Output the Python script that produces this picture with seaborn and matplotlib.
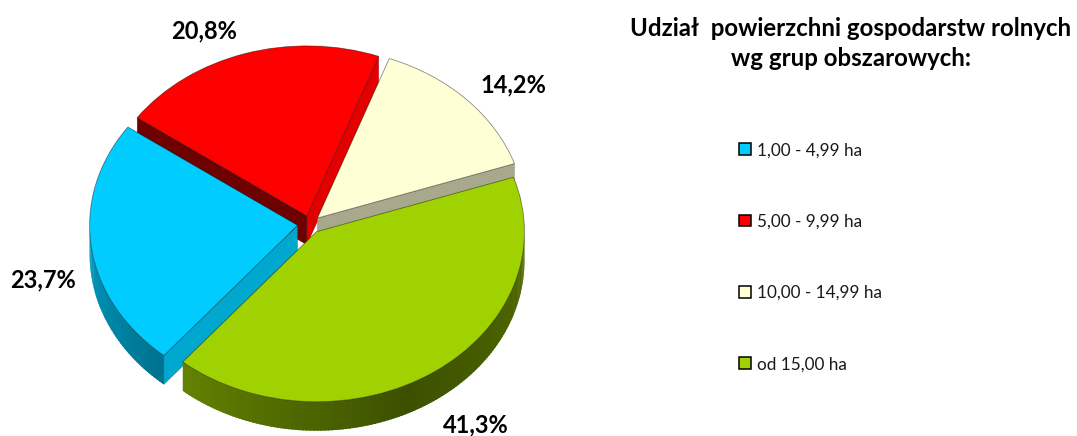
import numpy as np
import matplotlib
matplotlib.use("Agg")
import matplotlib.pyplot as plt
import seaborn as sns
from matplotlib.collections import PolyCollection
from matplotlib.patches import Patch

categories = ["1,00 - 4,99 ha", "5,00 - 9,99 ha", "10,00 - 14,99 ha", "od 15,00 ha"]
shares = [23.7, 20.8, 14.2, 41.3]
title_lines = ["Udział  powierzchni gospodarstw rolnych", "wg grup obszarowych:"]

sns.set_theme(style="white")
plt.rcParams["font.family"] = ["Lato", "DejaVu Sans"]

W, H = 1077, 436
top_colors = sns.color_palette(["#00CCFF", "#FF0000", "#FFFFD5", "#9FD200"])
# shading of the pie walls (style only)
cut_colors = [(None, "#00A8D0"), ("#E20000", "#6E0000"), ("#A8A88C", None), (None, None)]
shade = [(0.76, 0.56), (0.4, 0.4), (0.6, 0.6), (0.62, 0.38, 0.52)]
draw_order = [1, 2, 0, 3]
explode = [0.06, 0.05, 0.05, 0.055]

RX, RY, DEPTH = 208.0, 170.0, 29.0
CX, CY = 310.0, 224.0

fig = plt.figure(figsize=(W / 100, H / 100), dpi=100, facecolor="white")
ax = fig.add_axes([0, 0, 1, 1])
wedges, _ = ax.pie(shares, colors=top_colors, startangle=230, counterclock=False,
                   explode=explode,
                   wedgeprops=dict(edgecolor=(0, 0, 0, 0.45), linewidth=0.6))
ax.set_aspect("auto")
ax.set_xlim(-CX / RX, (W - CX) / RX)
ax.set_ylim((CY - H) / RY, CY / RY)
ax.axis("off")
d = DEPTH / RY


def shade_at(stops, t):
    return np.interp(t, np.linspace(0, 1, len(stops)), stops)


for z, i in enumerate(draw_order):
    w = wedges[i]
    base = np.array(top_colors[i])
    cx, cy = w.center
    r = w.r
    # outer wall: the part of the arc on the lower half of the ellipse
    a0 = w.theta1 % 360
    a1 = a0 + (w.theta2 - w.theta1)
    ranges = []
    for k in (0, 360):
        lo, hi = max(a0, 180 + k), min(a1, 360 + k)
        if hi > lo:
            ranges.append((lo, hi))
    zbase = 2 + z * 2
    for lo, hi in ranges:
        ang = np.linspace(lo, hi, int(hi - lo) + 2)
        step = ang[1] - ang[0]
        polys, cols = [], []
        for p, t in zip(ang[:-1], np.linspace(0, 1, len(ang) - 1)):
            q = min(p + 1.6 * step, hi)  # overlap neighbouring strips to avoid seams
            xp, yp = cx + r * np.cos(np.radians(p)), cy + r * np.sin(np.radians(p))
            xq, yq = cx + r * np.cos(np.radians(q)), cy + r * np.sin(np.radians(q))
            polys.append([(xp, yp), (xq, yq), (xq, yq - d), (xp, yp - d)])
            cols.append(tuple(base * shade_at(shade[i], t)))
        ax.add_collection(PolyCollection(polys, facecolors=cols, edgecolors="none",
                                         zorder=zbase))
    # cut walls along the two straight edges
    for theta, col in zip((w.theta1, w.theta2), cut_colors[i]):
        if col is None:
            continue
        ex, ey = cx + r * np.cos(np.radians(theta)), cy + r * np.sin(np.radians(theta))
        ax.fill([cx, ex, ex, cx], [cy, ey, ey - d, cy - d], facecolor=col,
                edgecolor=(0, 0, 0, 0.25), linewidth=0.4, zorder=zbase)
    w.set_zorder(zbase + 1)

# percentage labels
label_px = [(43, 280), (204, 31), (513, 85), (476, 425)]
for v, (px, py) in zip(shares, label_px):
    fig.text(px / W, 1 - py / H, f"{v:.1f}%".replace(".", ","), ha="center", va="center",
             fontsize=17, fontweight="bold", color="black")

for line, py in zip(title_lines, (28, 59)):
    fig.text(851 / W, 1 - py / H, line, ha="center", va="center", fontsize=17.3,
             fontweight="bold", color="black")

handles = [Patch(facecolor=c, edgecolor="black", linewidth=1.1) for c in top_colors]
fig.legend(handles, categories, loc="upper left", bbox_to_anchor=(734 / W, 1 - 137 / H),
           frameon=False, fontsize=12.3, labelcolor="#1a1a1a", handlelength=0.68,
           handleheight=0.68, handletextpad=0.35, labelspacing=3.24, borderpad=0.3,
           borderaxespad=0)

fig.savefig("out.png", dpi=100)
